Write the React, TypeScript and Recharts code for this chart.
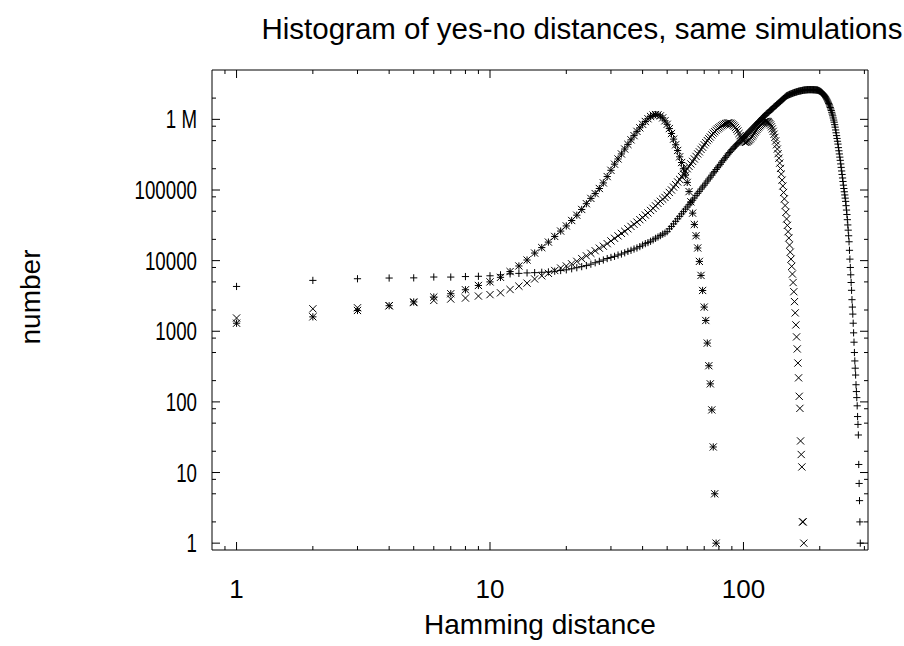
import { ScatterChart, Scatter, XAxis, YAxis, ReferenceArea } from 'recharts';

// histogram counts, index 0 = Hamming distance 1
const plusCounts = [
  4310, 5250, 5540, 5670, 5700, 5860, 5850, 5950, 6000, 6100, 6300, 6500, 6600, 6700,
  // 15
  6760, 6840, 6920, 7080, 7240, 7410, 7670, 7940, 8220, 8510, 8910, 9330, 9770, 10200, 10700, 11100,
  // 31
  11500, 12000, 12400, 12900, 13500, 14000, 14600, 15100, 15800, 16600,
  17400, 18000, 18800, 19700, 20700, 21600, 22600, 23700, 24500, 25700,
  // 51
  28200, 30500, 33100, 36000, 39100, 42400, 45900, 49400, 53600, 57500, 61700, 66100, 71600,
  // 64
  77100, 83200, 89700, 95700, 103000, 110000, 117000, 125000, 134000, 143000,
  152000, 162000, 174000, 182000, 195000, 207000, 219000, 231000, 247000, 260000,
  275000, 290000, 305000, 324000, 339000, 355000, 372000,
  // 91
  389000, 406000, 420000, 437000, 457000, 473000, 493000, 511000, 533000, 552000, 571000,
  // 102
  596000, 617000, 638000, 661000, 684000, 708000, 733000, 759000, 785000, 813000,
  841000, 871000, 902000, 933000, 955000, 989000, 1023000, 1059000, 1084000, 1122000,
  1148000, 1189000, 1216000, 1245000, 1274000,
  // 127
  1318000, 1349000, 1380000, 1413000, 1445000, 1496000, 1531000, 1567000, 1603000, 1641000,
  1679000, 1718000, 1758000, 1799000, 1841000, 1884000, 1928000, 1972000, 2018000, 2065000, 2113000,
  // 148
  2153000, 2178000, 2203000, 2228000, 2254000, 2275000, 2296000, 2317000, 2339000, 2360000,
  2382000, 2399000, 2415000, 2432000, 2449000, 2466000, 2483000, 2500000, 2512000, 2523000,
  2535000, 2547000, 2559000, 2570000, 2582000, 2594000, 2600000, 2606000, 2612000, 2618000, 2624000,
  // 179
  2630000, 2632000, 2634000, 2635000, 2636000, 2636000, 2635000, 2634000, 2632000, 2630000,
  2628000, 2625000, 2622000, 2618000,
  // 193
  2612000, 2606000, 2600000, 2594000, 2576000, 2559000, 2535000, 2512000,
  // 201
  2483000, 2455000, 2421000, 2382000, 2344000, 2301000, 2259000, 2213000, 2163000, 2113000,
  2056000, 1995000, 1936000, 1875000, 1811000, 1746000, 1679000, 1611000, 1542000, 1472000,
  1403000, 1334000, 1259000, 1189000, 1122000, 1047000, 977000, 912000, 841000, 776000,
  708000, 646000, 589000, 537000, 490000, 447000, 398000, 359000, 324000, 292000,
  263000, 234000, 209000, 186000, 166000, 148000, 132000, 117000, 105000, 94400, 85100,
  // 252
  76700, 69000, 60000, 52000, 45000, 38000, 32000, 27000, 22500, 18500,
  14000, 10500, 8000, 6300, 4900, 3800, 2800, 2200, 1750, 1300,
  950, 700, 500, 380, 300, 240, 175, 140, 115, 88,
  62, 48, 34, 13, 7, 4, 2, 1,
];

const crossCounts = [
  1540, 2080, 2150, 2300, 2550, 2730, 2860, 2950, 3150, 3300, 3500, 3900, 4350, 4800,
  // 15
  5500, 6100, 6600, 7250, 7850, 8400, 9000, 9770, 10700, 11700, 12700, 13800, 15000, 16000, 17400, 19000,
  // 31
  20700, 22400, 24300, 26000, 28200, 30500, 32700, 35100, 38000, 40700,
  44200, 47300, 51300, 55000, 59600, 64600, 69200, 74100, 78500, 84100,
  // 51
  92300, 100000, 110000, 119000, 130000, 141000, 155000, 168000, 184000, 200000,
  216000, 234000, 254000, 275000, 299000, 324000, 347000, 376000, 403000, 437000,
  468000, 501000, 531000, 562000, 603000,
  // 76
  638000, 668000, 700000, 733000, 759000, 785000, 813000, 832000, 851000, 871000,
  881000, 891000, 891000, 881000, 861000, 832000, 804000, 767000, 724000, 684000,
  631000, 589000, 550000, 519000, 495000,
  // 101
  479000, 473000, 479000, 490000, 501000, 519000, 543000, 569000, 596000, 631000,
  661000, 692000, 724000, 759000, 785000, 813000, 841000, 871000, 891000, 912000,
  923000, 933000, 938000, 933000, 923000,
  // 126
  902000, 871000, 832000, 785000, 733000, 676000, 617000, 556000, 495000, 437000,
  380000, 327000, 282000, 240000, 202000, 168000, 138000, 114000, 92300, 75000,
  60300, 48400, 38900, 31600, 25700,
  // 151
  20900, 16600, 13200, 10500, 8300, 6460, 4900, 3630, 2630, 1820,
  1230, 832, 562, 355, 219, 120, 81, 28, 18, 12,
  2, 2, 1,
];

const starCounts = [
  1300, 1600, 1970, 2300, 2600, 3050, 3400, 3870, 4450, 5000,
  5800, 7000, 8400, 10200, 12800, 15300, 18300, 22000, 26200, 31000,
  37000, 44000, 53000, 64000, 76000, 89000, 105000, 126000, 155000, 190000,
  232000, 275000, 324000, 380000, 442000, 513000, 589000, 676000, 759000, 851000,
  933000, 1020000, 1100000, 1150000, 1170000, 1160000, 1120000, 1050000, 955000, 851000,
  741000, 631000, 525000, 437000, 363000, 295000, 245000, 200000, 162000, 128000,
  95000, 68000, 47000, 32500, 22500, 15100, 9750, 6170, 3780, 2200,
  1420, 680, 325, 180, 77, 23, 5, 1,
];

const xMajor = [1, 10, 100];
const xMinor = [0.9, 2, 3, 4, 5, 6, 7, 8, 9, 20, 30, 40, 50, 60, 70, 80, 90, 200, 300];
const yMajor = [1, 10, 100, 1000, 10000, 100000, 1000000];
const yMajorLabels = ['1', '10', '100', '1000', '10000', '100000', '1 M'];
const yMinor = [2, 5, 8, 20, 50, 80, 200, 500, 800, 2000, 5000, 8000, 20000, 50000, 80000,
  200000, 500000, 800000, 2000000];

const toPoints = (counts: number[]) => counts.map((c, i) => ({ d: i + 1, n: c }));

const W = 904;
const H = 646;
const PLOT_LEFT = 212;
const PLOT_RIGHT = 868;
const PLOT_TOP = 70;
const PLOT_BOTTOM = 550;
const FONT = '"Liberation Sans", Arial, Helvetica, sans-serif';
const INK = '#000';
const R = 3.6;

const Plus = (p: any) => (
  <path d={`M${p.cx - R},${p.cy}H${p.cx + R}M${p.cx},${p.cy - R}V${p.cy + R}`} stroke={INK} strokeWidth={1} fill="none" />
);
const Cross = (p: any) => (
  <path d={`M${p.cx - R},${p.cy - R}L${p.cx + R},${p.cy + R}M${p.cx - R},${p.cy + R}L${p.cx + R},${p.cy - R}`} stroke={INK} strokeWidth={1} fill="none" />
);
const Star = (p: any) => (
  <path d={`M${p.cx - R},${p.cy}H${p.cx + R}M${p.cx},${p.cy - R}V${p.cy + R}M${p.cx - R},${p.cy - R}L${p.cx + R},${p.cy + R}M${p.cx - R},${p.cy + R}L${p.cx + R},${p.cy - R}`} stroke={INK} strokeWidth={1} fill="none" />
);

const XTick = (props: any) => {
  const { x, payload } = props;
  const v = payload.value;
  const major = xMajor.includes(v);
  const len = major ? 8 : 4;
  return (
    <g>
      <line x1={x} x2={x} y1={PLOT_BOTTOM} y2={PLOT_BOTTOM - len} stroke={INK} />
      <line x1={x} x2={x} y1={PLOT_TOP} y2={PLOT_TOP + len} stroke={INK} />
      {major && (
        <text x={x} y={598} textAnchor="middle" fontSize={26} fontFamily={FONT} fill={INK}>
          {v}
        </text>
      )}
    </g>
  );
};

const YTick = (props: any) => {
  const { y, payload } = props;
  const v = payload.value;
  const idx = yMajor.indexOf(v);
  const len = idx >= 0 ? 8 : 4;
  return (
    <g>
      <line x1={PLOT_LEFT} x2={PLOT_LEFT + len} y1={y} y2={y} stroke={INK} />
      <line x1={PLOT_RIGHT} x2={PLOT_RIGHT - len} y1={y} y2={y} stroke={INK} />
      {idx >= 0 && (
        <text
          transform={`translate(197, ${y + 9}) scale(0.72, 1)`}
          textAnchor="end"
          fontSize={26}
          fontFamily={FONT}
          fill={INK}
        >
          {yMajorLabels[idx]}
        </text>
      )}
    </g>
  );
};

export default function App() {
  return (
    <div style={{ position: 'absolute', left: 0, top: 0, width: W, height: H, background: '#fff' }}>
      <ScatterChart
        width={W}
        height={H}
        margin={{ top: PLOT_TOP, right: W - PLOT_RIGHT, bottom: H - PLOT_BOTTOM - 60, left: PLOT_LEFT - 100 }}
      >
        <XAxis
          type="number"
          dataKey="d"
          scale="log"
          domain={[0.8, 310]}
          allowDataOverflow
          ticks={[...xMajor, ...xMinor]}
          interval={0}
          height={60}
          axisLine={false}
          tickLine={false}
          tick={<XTick />}
        />
        <YAxis
          type="number"
          dataKey="n"
          scale="log"
          domain={[0.8, 5000000]}
          allowDataOverflow
          ticks={[...yMajor, ...yMinor]}
          interval={0}
          width={100}
          axisLine={false}
          tickLine={false}
          tick={<YTick />}
        />
        <ReferenceArea x1={0.8} x2={310} y1={0.8} y2={5000000} fill="none" stroke={INK} strokeWidth={1} fillOpacity={0} />
        <Scatter data={toPoints(plusCounts)} shape={<Plus />} isAnimationActive={false} />
        <Scatter data={toPoints(crossCounts)} shape={<Cross />} isAnimationActive={false} />
        <Scatter data={toPoints(starCounts)} shape={<Star />} isAnimationActive={false} />
      </ScatterChart>
      <svg width={W} height={H} style={{ position: 'absolute', left: 0, top: 0, pointerEvents: 'none' }}>
        <text x={582} y={39} textAnchor="middle" fontSize={29.5} fontFamily={FONT} fill={INK}>
          Histogram of yes-no distances, same simulations
        </text>
        <text x={540} y={634} textAnchor="middle" fontSize={28} fontFamily={FONT} fill={INK}>
          Hamming distance
        </text>
        <text x={40} y={297} textAnchor="middle" fontSize={28} fontFamily={FONT} fill={INK} transform="rotate(-90, 40, 297)">
          number
        </text>
      </svg>
    </div>
  );
}
